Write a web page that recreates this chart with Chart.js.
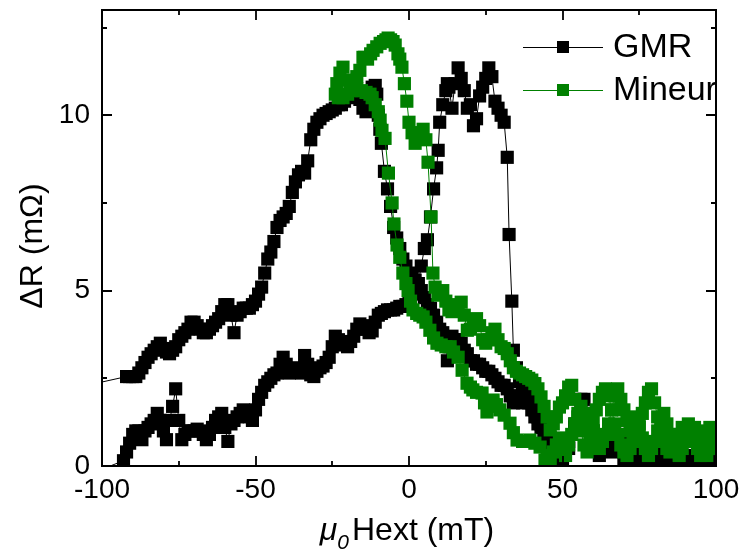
<!DOCTYPE html>
<html>
<head>
<meta charset="utf-8">
<script src="https://cdn.jsdelivr.net/npm/chart.js@4.4.1/dist/chart.umd.min.js"></script>
<style>
  html, body { margin: 0; padding: 0; background: #fff; }
  #chart { display: block; }
</style>
</head>
<body>
<canvas id="chart" width="742" height="551"></canvas>
<script>
// GMR loop, field sweep going down (mT) and delta R (mOhm)
var gmrDownField = [
  110, 100, 98, 96, 94, 92, 90, 88, 86, 84,
  82, 80, 78, 76, 74, 72, 70, 68, 66, 64,
  62, 60, 58, 56, 54, 52, 50, 48, 46, 45,
  44, 43, 42, 41, 40, 39, 38, 37, 36, 35,
  34, 33, 32, 31, 30, 29, 28, 27, 26, 25,
  24, 23, 22, 21, 20, 19, 18, 17, 16, 15,
  14, 13, 12.5, 12, 11, 10, 9, 8, 7, 6,
  5, 4, 3, 2, 1, 0, -1, -2, -3, -4,
  -5, -6, -7, -8, -9, -9.5, -10, -10.5, -11, -12,
  -13, -14, -15, -16, -17, -18, -19, -20, -21, -22,
  -23, -24, -25, -26, -27, -28, -29, -30, -31, -32,
  -33, -34, -35, -36, -37, -38, -39, -40, -41, -42,
  -43, -44, -45, -46, -47, -48, -49, -50, -51, -52,
  -53, -54, -55, -56, -57, -58, -59, -60, -61, -62,
  -63, -64, -65, -66, -67, -68, -69, -70, -71, -72,
  -73, -74, -75, -76, -77, -78, -79, -80, -81, -82,
  -83, -84, -85, -86, -87, -88, -89, -90, -91, -92,
  -110
];
var gmrDownDelta = [
  0.3, 0.2, 0.5, 0.1, 0.4, 0.2, 0.0, 0.3, 0.6, 0.2,
  0.4, 0.1, 0.5, 0.3, 0.7, 0.4, 0.2, 0.6, 0.9, 0.5,
  0.3, 0.8, 1.3, 1.9, 1.2, 0.7, 0.3, 0.5, 0.8, 0.9,
  1.0, 1.1, 1.2, 1.4, 1.6, 1.8, 1.9, 1.8, 1.9, 2.0,
  1.8, 2.0, 2.2, 2.3, 2.3, 2.4, 2.5, 2.6, 2.7, 2.7,
  2.8, 2.9, 2.9, 3.0, 3.0, 3.2, 3.3, 3.5, 3.6, 3.6,
  3.7, 3.4, 3.0, 3.6, 3.8, 3.9, 4.1, 4.3, 4.5, 4.6,
  4.8, 5.0, 5.2, 5.3, 5.4, 5.5, 5.7, 5.9, 6.2, 6.5,
  6.8, 7.4, 7.9, 8.4, 9.2, 9.6, 10.0, 10.6, 10.85, 10.8,
  10.4, 10.1, 10.2, 10.45, 10.55, 10.6, 10.55, 10.5, 10.4, 10.3,
  10.3, 10.2, 10.15, 10.1, 10.05, 10.0, 9.9, 9.8, 9.6, 9.3,
  8.7, 8.35, 8.4, 8.3, 8.1, 7.8, 7.4, 7.2, 7.1, 7.0,
  6.8, 6.4, 6.1, 5.9, 5.5, 5.1, 4.9, 4.7, 4.6, 4.5,
  4.5, 4.5, 4.4, 4.3, 3.8, 4.3, 4.6, 4.6, 4.4, 4.2,
  4.1, 4.0, 3.9, 3.8, 3.8, 3.9, 4.0, 4.1, 4.1, 3.9,
  3.8, 3.7, 3.6, 3.4, 3.3, 3.2, 3.25, 3.35, 3.5, 3.4,
  3.3, 3.2, 3.1, 2.95, 2.8, 2.65, 2.55, 2.55, 2.55, 2.55,
  2.2
];
// GMR loop, field sweep going up
var gmrUpField = [
  -106, -93, -92, -91, -90, -89, -88, -87, -86, -85,
  -84, -83, -82, -81, -80, -79, -78, -77, -76, -75,
  -74, -73, -72, -71, -70, -69, -68, -67, -66, -65,
  -64, -63, -62, -61, -60, -59, -58, -57, -56, -55,
  -54, -53, -52, -51, -50, -49, -48, -47, -46, -45,
  -44, -43, -42, -41, -40, -39, -38, -37, -36, -35,
  -34, -33, -32, -31, -30, -29, -28, -27, -26, -25,
  -24, -23, -22, -21, -20, -19, -18, -17, -16, -15,
  -14, -13, -12, -11, -10, -9, -8, -7, -6, -5,
  -4, -3, -2, -1, 0, 1, 2, 3, 4, 5,
  6, 7, 8, 9, 9.5, 10, 11, 12, 12.5, 13,
  14, 15, 16, 17, 18, 19, 20, 21, 22, 23,
  24, 25, 26, 27, 28, 29, 30, 31, 32, 32.6,
  33.5, 34, 35, 36, 37, 38, 39, 40, 41, 42,
  43, 44, 45, 46, 47, 48, 50, 52, 54, 56,
  57, 58, 60, 62, 64, 65, 66, 68, 69, 70,
  72, 74, 76, 78, 80, 82, 84, 86, 88, 90,
  92, 94, 96, 98, 100, 110
];
var gmrUpDelta = [
  -0.3, 0.15, 0.4, 0.65, 0.9, 1.0, 1.0, 0.75, 1.0, 1.1,
  1.2, 1.3, 1.5, 1.3, 1.0, 0.75, 1.3, 1.7, 2.2, 1.3,
  0.75, 0.9, 1.0, 1.0, 1.0, 1.05, 1.0, 0.9, 0.75, 0.9,
  1.1, 1.3, 1.4, 1.5, 1.1, 0.7, 1.2, 1.3, 1.4, 1.5,
  1.6, 1.5, 1.4, 1.3, 1.6, 1.9, 2.1, 2.3, 2.4, 2.5,
  2.6, 2.65, 2.9, 3.1, 2.9, 2.65, 2.7, 2.8, 2.7, 2.65,
  3.15, 2.9, 2.6, 2.55, 2.7, 2.8, 2.85, 2.95, 3.1, 3.4,
  3.7, 3.6, 3.5, 3.45, 3.4, 3.55, 3.7, 3.9, 4.05, 4.0,
  3.9, 3.8, 3.85, 4.1, 4.3, 4.35, 4.4, 4.45, 4.45, 4.45,
  4.5, 4.55, 4.55, 4.6, 4.7, 4.9, 5.1, 5.2, 5.7, 6.2,
  6.45, 7.1, 7.9, 8.5, 9.0, 9.8, 10.3, 10.7, 10.9, 10.8,
  10.2, 10.9, 11.35, 11.05, 10.7, 10.2, 10.3, 9.7, 9.9, 10.55,
  10.8, 11.05, 11.35, 11.1, 10.4, 10.2, 10.0, 9.8, 8.8, 6.6,
  4.7, 3.3, 2.8, 2.4, 2.2, 2.0, 1.9, 1.8, 1.6, 1.4,
  1.2, 1.0, 0.7, 0.5, 0.3, 0.2, 0.1, 0.5, 1.1, 1.8,
  1.9, 1.5, 1.0, 0.6, 0.8, 0.65, 0.4, 0.6, 0.9, 0.5,
  0.3, 0.2, 0.4, 0.2, 0.3, 0.1, 0.2, 0.0, 0.1, 0.3,
  0.1, 0.0, 0.2, 0.1, 0.0, 0.1
];
// minor loop ("Mineur"), sweep going down
var mineurDownField = [
  110, 100, 99, 98, 97, 96, 95, 94, 93, 92,
  91, 90, 89, 88, 87, 86, 85, 84, 83, 82,
  81, 80, 79, 78, 77, 76, 75, 74, 73, 72,
  71, 70, 69, 68, 67, 66, 65, 64, 63, 62,
  61, 60, 59, 58, 57, 56, 55, 54, 53, 52,
  51, 50, 49, 48, 47, 46, 45, 44, 43, 42,
  41, 40, 39, 38, 37, 36, 35, 34, 33, 32,
  31, 30, 29, 28, 27, 26, 25, 24, 23, 22,
  21, 20, 19, 18, 17, 16, 15, 14, 13, 12,
  11, 10, 9.4, 8.5, 7.8, 7.2, 6.2, 5.5,
  4.6, 4, 3, 2, 1, 0, -0.7, -1.5, -2.3, -3,
  -3.6, -4.5, -5.2, -6, -6.8, -7.5, -8.3, -9.4, -10.5, -11.7,
  -12.5, -13.5, -14.5, -15, -16, -17, -18, -19.2, -20, -21.5,
  -22.5, -23.5, -24
];
var mineurDownDelta = [
  0.6, 0.6, 0.9, 1.1, 0.9, 0.6, 0.3, 0.5, 0.8, 1.0,
  1.2, 0.8, 0.5, 0.3, 0.5, 0.7, 0.9, 1.2, 1.5, 1.3,
  1.0, 0.7, 0.5, 0.3, 0.5, 0.8, 1.1, 1.4, 1.2, 1.0,
  1.3, 1.6, 1.9, 2.2, 2.0, 1.6, 1.2, 0.9, 0.7, 0.5,
  0.7, 1.0, 0.7, 0.4, 0.6, 1.0, 1.4, 1.9, 2.3, 2.25,
  2.0, 1.8, 1.68, 1.4, 1.2, 1.03, 1.4, 1.7, 1.97, 2.2,
  2.35, 2.45, 2.5, 2.55, 2.6, 2.65, 2.7, 2.8, 3.0, 3.2,
  3.35, 3.4, 3.6, 3.9, 3.8, 3.6, 3.5, 3.6, 4.0, 4.2,
  4.1, 3.9, 3.87, 4.3, 4.67, 4.6, 4.45, 4.4, 4.45, 4.7,
  5.0, 4.9, 4.87, 5.1, 5.5, 7.1, 8.66, 9.3,
  9.6, 9.5, 9.4, 9.2, 9.5, 9.8, 10.4, 10.9, 11.37, 11.6,
  11.75, 12.0, 12.1, 12.15, 12.2, 12.15, 12.1, 12.05, 11.95, 11.85,
  11.75, 11.6, 11.65, 11.65, 11.28, 11.1, 10.9, 10.8, 11.0, 11.37,
  11.2, 10.9, 10.6
];
// minor loop, sweep going back up
var mineurUpField = [
  -23, -21.5, -20, -18.5, -17, -15.5, -14, -12.7, -12, -11,
  -10, -9.4, -8.8, -7.8, -6.7, -5.5, -4.9, -3.9, -3, -2,
  -1, -0.3, 0.5, 1.3, 2.5, 3.5, 4.6, 5.5, 6.8, 8,
  9.1, 10.5, 12, 13.4, 14.5, 16, 17.3, 18.9, 20, 20.8,
  22, 23.8, 24.6, 25.4, 26.5, 27.4, 28.5, 29.6, 31, 32.9,
  34, 35.2, 37, 39.4, 41, 42.7, 44.3, 45, 46, 47,
  48, 49, 50, 51, 52, 53, 54, 55, 56, 57,
  58, 59, 60, 61, 62, 63, 64, 65, 66, 67,
  68, 69, 70, 71, 72, 73, 74, 75, 76, 77,
  78, 79, 80, 81, 82, 83, 84, 85, 86, 87,
  88, 89, 90, 91, 92, 93, 94, 95, 96, 97,
  98, 99, 100, 110
];
var mineurUpDelta = [
  10.5, 10.5, 10.6, 10.7, 10.75, 10.7, 10.65, 10.6, 10.5, 10.3,
  10.1, 9.86, 9.57, 9.34, 8.35, 7.5, 6.9, 6.3, 5.95, 5.5,
  5.2, 5.0, 4.7, 4.45, 4.35, 4.3, 4.25, 4.1, 3.87, 3.65,
  3.5, 3.45, 3.4, 3.4, 3.25, 3.1, 2.73, 2.36, 2.25, 2.17,
  2.1, 2.08, 1.8, 1.54, 1.7, 1.88, 1.75, 1.6, 1.45, 1.22,
  0.95, 0.74, 0.7, 0.74, 0.65, 0.54, 0.17, 0.3, 0.2, 0.4,
  0.6, 0.8, 0.5, 0.3, 0.6, 0.9, 1.2, 1.5, 1.7, 1.5,
  1.2, 0.9, 1.3, 1.6, 1.9, 2.1, 2.2, 2.0, 1.6, 1.2,
  0.9, 0.6, 0.4, 0.3, 0.5, 0.7, 0.9, 1.2, 1.5, 1.8,
  2.1, 2.2, 1.8, 1.4, 1.0, 0.7, 0.5, 0.4, 0.6, 0.8,
  0.9, 1.1, 0.9, 0.7, 0.9, 1.1, 1.0, 0.8, 0.5, 0.3,
  0.5, 0.7, 0.5, 0.3
];

var xTickValues = [-100, -75, -50, -25, 0, 25, 50, 75, 100];
var xLabelValues = [-100, -50, 0, 50, 100];
var yTickValues = [0, 2.5, 5, 7.5, 10, 12.5];
var yLabelValues = [0, 5, 10];

var FONT = '"Liberation Sans", Arial, Helvetica, sans-serif';

function toPoints(xs, ys) {
	var pts = [];
	for (var i = 0; i < xs.length; i++) {
		pts.push({x: xs[i], y: ys[i]});
	}
	return pts;
}

var gmrData = toPoints(gmrDownField.concat(gmrUpField), gmrDownDelta.concat(gmrUpDelta));
var mineurData = toPoints(mineurDownField.concat(mineurUpField), mineurDownDelta.concat(mineurUpDelta));

// frame, inward ticks, legend and axis titles
var decorations = {
	id: 'decorations',
	afterDraw: function(chart) {
		var ctx = chart.ctx;
		var a = chart.chartArea;
		var xs = chart.scales.x;
		var ys = chart.scales.y;
		ctx.save();
		ctx.strokeStyle = '#000';
		ctx.lineWidth = 2;
		ctx.strokeRect(a.left, a.top, a.right - a.left, a.bottom - a.top);

		ctx.lineWidth = 1.8;
		ctx.beginPath();
		xTickValues.forEach(function(v) {
			var px = Math.round(xs.getPixelForValue(v));
			var len = (v % 50 === 0) ? 10 : 5;
			ctx.moveTo(px, a.bottom);
			ctx.lineTo(px, a.bottom - len);
			ctx.moveTo(px, a.top);
			ctx.lineTo(px, a.top + len);
		});
		yTickValues.forEach(function(v) {
			var py = Math.round(ys.getPixelForValue(v));
			var len = (v % 5 === 0) ? 10 : 5;
			ctx.moveTo(a.left, py);
			ctx.lineTo(a.left + len, py);
			ctx.moveTo(a.right, py);
			ctx.lineTo(a.right - len, py);
		});
		ctx.stroke();

		// legend
		chart.data.datasets.forEach(function(ds, i) {
			var cy = a.top + 37 + i * 43;
			var x0 = a.right - 193;
			var x1 = a.right - 113;
			ctx.strokeStyle = ds.borderColor;
			ctx.lineWidth = 1;
			ctx.beginPath();
			ctx.moveTo(x0, cy + 0.5);
			ctx.lineTo(x1, cy + 0.5);
			ctx.stroke();
			ctx.fillStyle = ds.pointBackgroundColor;
			ctx.fillRect((x0 + x1) / 2 - 6, cy - 6, 12, 12);
			ctx.fillStyle = '#000';
			ctx.font = '34px ' + FONT;
			ctx.textAlign = 'left';
			ctx.textBaseline = 'middle';
			ctx.fillText(ds.label, x1 + 10, cy + 1);
		});

		// x title: mu_0 Hext (mT)
		ctx.fillStyle = '#000';
		ctx.textBaseline = 'alphabetic';
		ctx.textAlign = 'left';
		var big = '32px ' + FONT;
		var bigIt = 'italic 32px ' + FONT;
		var subIt = 'italic 21px ' + FONT;
		ctx.font = bigIt;
		var wMu = ctx.measureText('\u03bc').width;
		ctx.font = subIt;
		var wSub = ctx.measureText('0').width;
		ctx.font = big;
		var wRest = ctx.measureText('Hext (mT)').width;
		var total = wMu + wSub + 3 + wRest;
		var sx = (a.left + a.right) / 2 - 2 - total / 2;
		var by = 540;
		ctx.font = bigIt;
		ctx.fillText('\u03bc', sx, by);
		ctx.font = subIt;
		ctx.fillText('0', sx + wMu, by + 9);
		ctx.font = big;
		ctx.fillText('Hext (mT)', sx + wMu + wSub + 3, by);

		// y title
		ctx.translate(42, (a.top + a.bottom) / 2 + 8);
		ctx.rotate(-Math.PI / 2);
		ctx.textAlign = 'center';
		ctx.font = big;
		ctx.fillText('\u0394R (m\u03a9)', 0, 0);
		ctx.restore();
	}
};

var ctx = document.getElementById('chart').getContext('2d');
var chart = new Chart(ctx, {
	type: 'scatter',
	data: {
		datasets: [{
			label: 'GMR',
			data: gmrData,
			showLine: true,
			borderColor: '#000000',
			borderWidth: 1,
			pointStyle: 'rect',
			pointRadius: 9.3,
			pointBackgroundColor: '#000000',
			pointBorderWidth: 0,
			clip: 0,
			// drawn below the minor loop
			order: 2
		},
		{
			label: 'Mineur',
			data: mineurData,
			showLine: true,
			borderColor: '#008000',
			borderWidth: 1,
			pointStyle: 'rect',
			pointRadius: 9.3,
			pointBackgroundColor: '#008000',
			pointBorderWidth: 0,
			clip: 0,
			order: 1
		}]
	},
	options: {
		responsive: false,
		animation: false,
		devicePixelRatio: 1,
		layout: {padding: {top: 10, right: 26, left: 0, bottom: 0}},
		plugins: {
			legend: {display: false},
			tooltip: {enabled: false}
		},
		elements: {line: {tension: 0}},
		scales: {
			x: {
				type: 'linear',
				min: -100,
				max: 100,
				grid: {display: false, drawTicks: false},
				border: {display: false},
				afterBuildTicks: function(s) {
					s.ticks = xLabelValues.map(function(v) { return {value: v}; });
				},
				ticks: {
					font: {family: FONT, size: 28},
					color: '#000',
					padding: 7,
					maxRotation: 0,
					minRotation: 0
				},
				afterFit: function(s) {
					s.height = 85;
					s.paddingLeft = 0;
					s.paddingRight = 0;
				}
			},
			y: {
				type: 'linear',
				min: 0,
				max: 13,
				grid: {display: false, drawTicks: false},
				border: {display: false},
				afterBuildTicks: function(s) {
					s.ticks = yLabelValues.map(function(v) { return {value: v}; });
				},
				ticks: {
					font: {family: FONT, size: 28},
					color: '#000',
					padding: 12
				},
				afterFit: function(s) {
					s.width = 102;
					s.paddingTop = 0;
					s.paddingBottom = 0;
				}
			}
		}
	},
	plugins: [decorations]
});
</script>
</body>
</html>
